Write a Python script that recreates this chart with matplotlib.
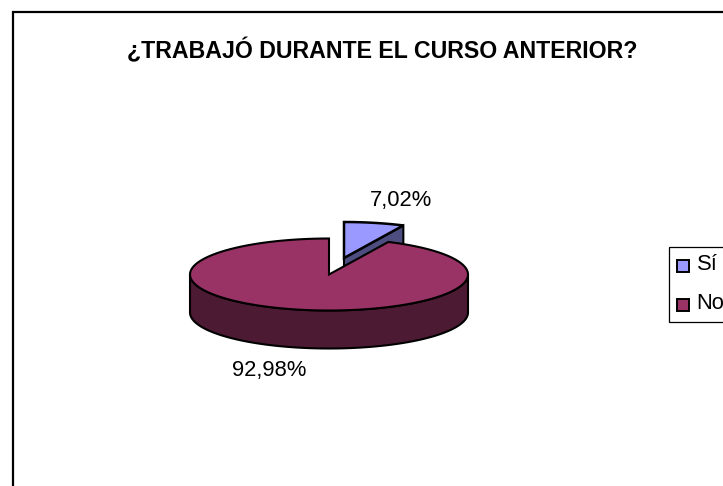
import numpy as np
import matplotlib
matplotlib.use("Agg")
import matplotlib.pyplot as plt
from matplotlib.patches import Polygon, Rectangle

# datos
categories = ["Sí", "No"]
values = [7.02, 92.98]
value_labels = ["7,02%", "92,98%"]
top_colors = ["#9999FF", "#993366"]
side_colors = ["#4D4D80", "#4D1A33"]
title = "¿TRABAJÓ DURANTE EL CURSO ANTERIOR?"

plt.rcParams["font.family"] = ["Liberation Sans", "DejaVu Sans"]

fig = plt.figure(figsize=(7.23, 4.86), dpi=100)
ax = fig.add_axes([0, 0, 1, 1])
ax.set_xlim(0, 723)
ax.set_ylim(486, 0)
ax.axis("off")

LW = 1.5

# marco exterior, se corta a la derecha y abajo
ax.add_patch(Rectangle((12.5, 12.5), 800, 600, fc="white", ec="black", lw=1.6))

ax.text(382, 51, title, ha="center", va="center", fontsize=16.7, fontweight="bold")

# pastel 3D
cx, cy = 329, 274.5
rx, ry = 139, 36
depth = 38
offset_x, offset_y = 15, -16.5


def arc(t0, t1, x0, y0):
    t = np.linspace(t0, t1, 200)
    return np.column_stack([x0 + rx * np.sin(t), y0 - ry * np.cos(t)])


split = 2 * np.pi * values[0] / sum(values)

# porción Sí, separada
sx, sy = cx + offset_x, cy + offset_y
rim = arc(split, split, sx, sy)[0]
ax.add_patch(Polygon([(sx, sy), rim, rim + [0, depth], (sx, sy + depth)],
                     fc=side_colors[0], ec="black", lw=LW))
ax.add_patch(Polygon(np.vstack([[(sx, sy)], arc(0, split, sx, sy)]),
                     fc=top_colors[0], ec="black", lw=LW * 1.2, joinstyle="miter"))

# porción No: pared frontal y tapa
front = arc(np.pi / 2, 3 * np.pi / 2, cx, cy)
ax.add_patch(Polygon(np.vstack([front, front[::-1] + [0, depth]]),
                     fc=side_colors[1], ec="black", lw=LW))
ax.add_patch(Polygon(np.vstack([[(cx, cy)], arc(split, 2 * np.pi, cx, cy)]),
                     fc=top_colors[1], ec="black", lw=LW, joinstyle="miter"))

ax.text(401, 200, value_labels[0], ha="center", va="center", fontsize=15.8)
ax.text(269, 370, value_labels[1], ha="center", va="center", fontsize=15.8)

# leyenda, también cortada a la derecha
ax.add_patch(Rectangle((668.5, 246.5), 100, 75, fc="white", ec="black", lw=0.9))
for name, color, y in zip(categories, top_colors, [266, 304.5]):
    ax.add_patch(Rectangle((677, y - 6), 12, 12, fc=color, ec="black", lw=1.4))
    ax.text(696.5, y - 1.5, name, ha="left", va="center", fontsize=15.8)

fig.savefig("out.png", dpi=100)
